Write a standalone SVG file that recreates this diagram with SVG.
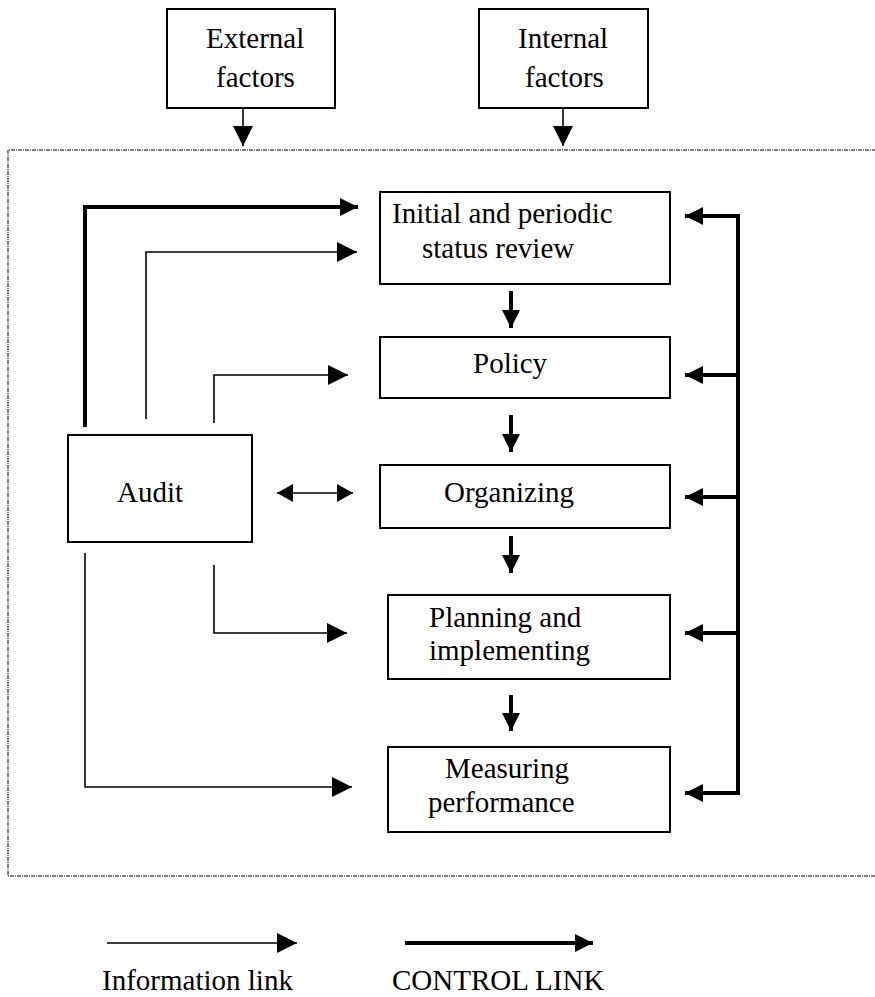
<svg xmlns="http://www.w3.org/2000/svg" width="875" height="997" viewBox="0 0 875 997">
<style>
  .box { fill: #fff; stroke: #000; stroke-width: 2; }
  .lbl { font-family: "Liberation Serif", "Times New Roman", serif; font-size: 29px; fill: #000; }
  .thin { fill: none; stroke: #000; stroke-width: 1.6; }
  .thick { fill: none; stroke: #000; stroke-width: 4; }
  .frame { fill: none; stroke: #000; stroke-width: 1; stroke-dasharray: 4 1 1 1; }
</style>
<defs>
  <marker id="ah" markerUnits="userSpaceOnUse" markerWidth="20" markerHeight="20" refX="20" refY="10" orient="auto-start-reverse">
    <path d="M0,0 L20,10 L0,20 Z" fill="#000"/>
  </marker>
  <marker id="ahk" markerUnits="userSpaceOnUse" markerWidth="18" markerHeight="18" refX="18" refY="9" orient="auto">
    <path d="M0,0 L18,9 L0,18 Z" fill="#000"/>
  </marker>
  <marker id="ahd" markerUnits="userSpaceOnUse" markerWidth="16" markerHeight="18" refX="16" refY="9" orient="auto-start-reverse">
    <path d="M0,0 L16,9 L0,18 Z" fill="#000"/>
  </marker>
</defs>

<path class="frame" d="M876,150 H8 V876 H876"/>

<g id="external">
  <rect class="box" x="167" y="9" width="168" height="99"/>
  <text class="lbl" x="206" y="48">External</text>
  <text class="lbl" x="216" y="87">factors</text>
</g>
<g id="internal">
  <rect class="box" x="479" y="9" width="169" height="99"/>
  <text class="lbl" x="518" y="48">Internal</text>
  <text class="lbl" x="525" y="87">factors</text>
</g>
<g id="initial">
  <rect class="box" x="380" y="192" width="290" height="92"/>
  <text class="lbl" x="392" y="223">Initial and periodic</text>
  <text class="lbl" x="422" y="258">status review</text>
</g>
<g id="policy">
  <rect class="box" x="380" y="337" width="290" height="61"/>
  <text class="lbl" x="473" y="373">Policy</text>
</g>
<g id="audit">
  <rect class="box" x="68" y="435" width="184" height="107"/>
  <text class="lbl" x="117" y="502">Audit</text>
</g>
<g id="organizing">
  <rect class="box" x="380" y="465" width="290" height="63"/>
  <text class="lbl" x="444" y="502">Organizing</text>
</g>
<g id="planning">
  <rect class="box" x="388" y="595" width="282" height="84"/>
  <text class="lbl" x="429" y="627">Planning and</text>
  <text class="lbl" x="429" y="660">implementing</text>
</g>
<g id="measuring">
  <rect class="box" x="388" y="747" width="282" height="85"/>
  <text class="lbl" x="445" y="778">Measuring</text>
  <text class="lbl" x="428" y="812">performance</text>
</g>

<g id="connectors">
  <!-- factors into frame -->
  <path class="thin" d="M243,108 V146" stroke-width="2" marker-end="url(#ah)"/>
  <path class="thin" d="M563,108 V146" stroke-width="2" marker-end="url(#ah)"/>
  <!-- audit links -->
  <path class="thick" d="M85,427 V207 H358" marker-end="url(#ahk)"/>
  <path class="thin" d="M146,419 V252 H357" marker-end="url(#ah)"/>
  <path class="thin" d="M214,423 V375 H348" marker-end="url(#ah)"/>
  <path class="thin" d="M277,493 H353" marker-start="url(#ahd)" marker-end="url(#ahd)"/>
  <path class="thin" d="M214,565 V633 H347" marker-end="url(#ah)"/>
  <path class="thin" d="M85,553 V787 H352" marker-end="url(#ah)"/>
  <!-- main flow -->
  <path class="thick" d="M511,291 V328" marker-end="url(#ahk)"/>
  <path class="thick" d="M511,415 V452" marker-end="url(#ahk)"/>
  <path class="thick" d="M511,536 V573" marker-end="url(#ahk)"/>
  <path class="thick" d="M511,695 V731" marker-end="url(#ahk)"/>
  <!-- control bus -->
  <path class="thick" d="M738,216 V793" stroke-linecap="square"/>
  <path class="thick" d="M738,216 H685" marker-end="url(#ahk)"/>
  <path class="thick" d="M738,375 H685" marker-end="url(#ahk)"/>
  <path class="thick" d="M738,497 H685" marker-end="url(#ahk)"/>
  <path class="thick" d="M738,633 H685" marker-end="url(#ahk)"/>
  <path class="thick" d="M738,793 H685" marker-end="url(#ahk)"/>
  <!-- legend -->
  <path class="thin" d="M107,943 H297" marker-end="url(#ah)"/>
  <path class="thick" d="M405,943 H593" stroke-width="5" marker-end="url(#ahk)"/>
</g>
<text class="lbl" x="102" y="990">Information link</text>
<text class="lbl" x="392" y="990">CONTROL LINK</text>
</svg>
